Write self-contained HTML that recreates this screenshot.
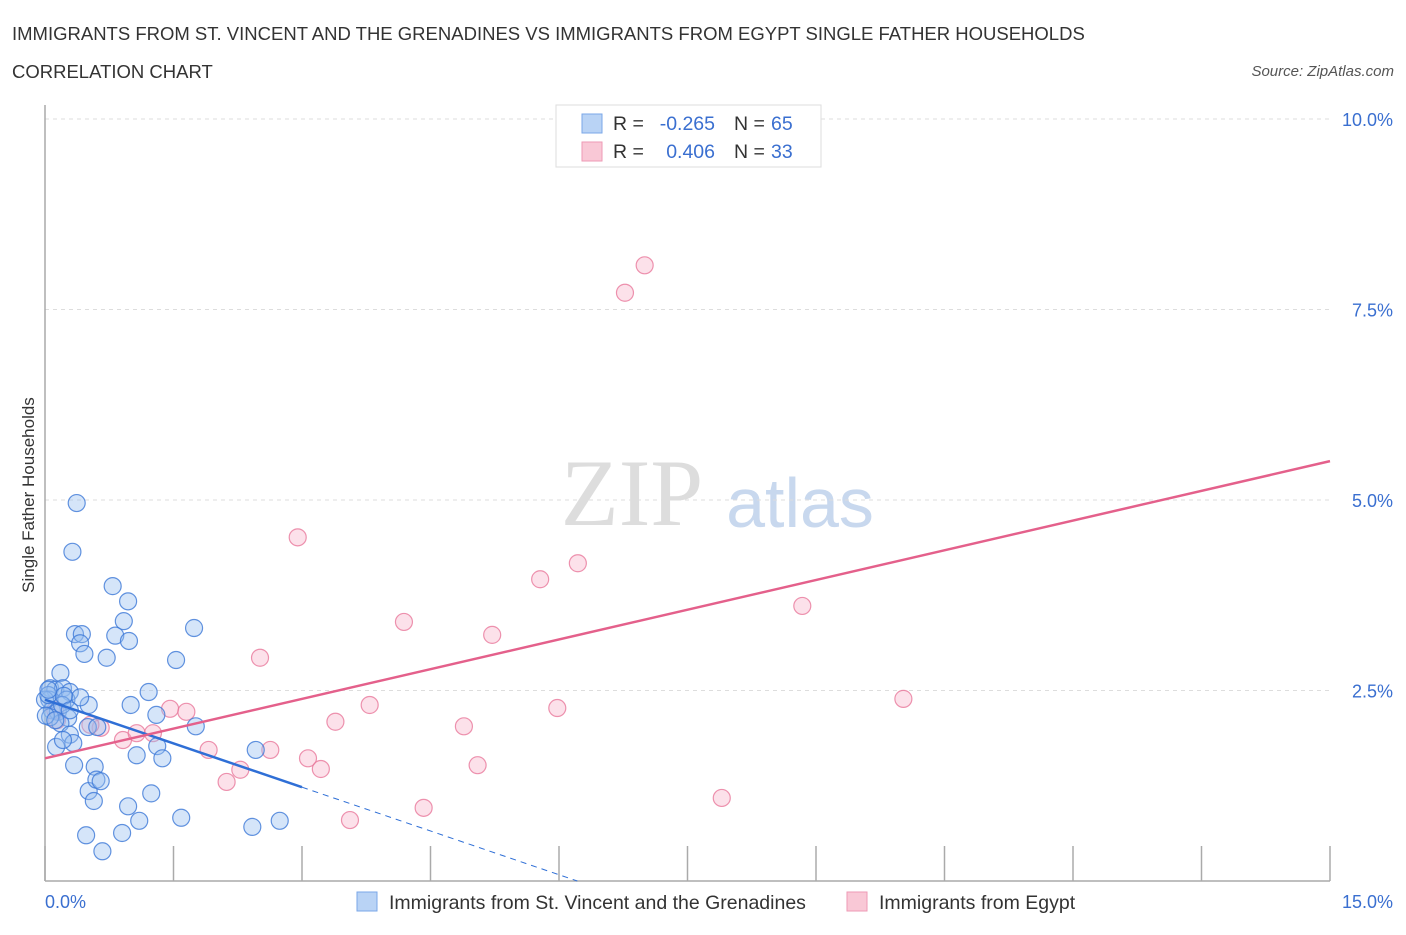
<!DOCTYPE html>
<html><head><meta charset="utf-8"><style>
body{margin:0;background:#fff;font-family:"Liberation Sans",sans-serif;}
</style></head><body>
<svg width="1406" height="930" xmlns="http://www.w3.org/2000/svg">
<text x="12" y="40" font-size="18.5" fill="#333">IMMIGRANTS FROM ST. VINCENT AND THE GRENADINES VS IMMIGRANTS FROM EGYPT SINGLE FATHER HOUSEHOLDS</text>
<text x="12" y="78" font-size="18.5" fill="#333">CORRELATION CHART</text>
<text x="1394" y="76" font-size="15" fill="#555" font-style="italic" text-anchor="end">Source: ZipAtlas.com</text>
<text x="632" y="525" font-size="95" fill="#ddd" font-family="Liberation Serif" text-anchor="middle">ZIP</text>
<text x="800" y="527" font-size="70" fill="#c8d8ee" text-anchor="middle">atlas</text>
<g id="grid"></g>
<g id="axes"></g>
<g id="pts"></g>
<g id="lines"></g>
<text x="34" y="495" font-size="17" fill="#333" text-anchor="middle" transform="rotate(-90 34 495)">Single Father Households</text>
<text x="45" y="908" font-size="18" fill="#3a6fd0">0.0%</text>
<text x="1393" y="908" font-size="18" fill="#3a6fd0" text-anchor="end">15.0%</text>
<g>
<rect x="556" y="105" width="265" height="62" fill="#fff" stroke="#ddd"/>
<rect x="582" y="114" width="20" height="19" fill="#b9d3f5" stroke="#7aa7e8"/>
<rect x="582" y="142" width="20" height="19" fill="#f9c8d6" stroke="#ee9ab5"/>
<text x="613" y="130" font-size="19.5" fill="#333">R =</text>
<text x="715" y="130" font-size="19.5" fill="#3a6fd0" text-anchor="end">-0.265</text>
<text x="734" y="130" font-size="19.5" fill="#333">N =</text>
<text x="771" y="130" font-size="19.5" fill="#3a6fd0">65</text>
<text x="613" y="158" font-size="19.5" fill="#333">R =</text>
<text x="715" y="158" font-size="19.5" fill="#3a6fd0" text-anchor="end">0.406</text>
<text x="734" y="158" font-size="19.5" fill="#333">N =</text>
<text x="771" y="158" font-size="19.5" fill="#3a6fd0">33</text>
</g>
<g>
<rect x="357" y="892" width="20" height="19" fill="#b9d3f5" stroke="#7aa7e8"/>
<text x="389" y="909" font-size="19.5" fill="#333">Immigrants from St. Vincent and the Grenadines</text>
<rect x="847" y="892" width="20" height="19" fill="#f9c8d6" stroke="#ee9ab5"/>
<text x="879" y="909" font-size="19.5" fill="#333">Immigrants from Egypt</text>
</g>
</svg>
<script>
const blueX=[0.37,0.32,0.79,0.97,0.92,0.35,0.43,0.41,0.82,0.98,0.46,0.72,1.53,1.74,0.18,0.06,0.12,0.21,0.29,0.25,0.51,1.00,1.21,1.30,0.05,0.08,0.15,0.27,0.18,0.50,0.61,0.29,0.13,0.33,0.21,1.31,1.37,1.07,2.46,1.76,0.06,0.34,0.51,0.58,0.60,0.65,0.57,0.97,1.24,1.10,1.59,0.48,0.90,0.67,2.42,2.74,0,0.04,0.20,0.41,0.01,0.12,0.22,0.29,0.04];
const blueY=[4.96,4.32,3.87,3.67,3.41,3.24,3.24,3.12,3.22,3.15,2.98,2.93,2.90,3.32,2.73,2.53,2.51,2.53,2.48,2.38,2.31,2.31,2.48,2.18,2.38,2.24,2.22,2.14,2.07,2.02,2.02,1.92,1.76,1.81,1.85,1.77,1.61,1.65,1.72,2.03,2.15,1.52,1.18,1.50,1.33,1.31,1.05,0.98,1.15,0.79,0.83,0.60,0.63,0.39,0.71,0.79,2.38,2.44,2.31,2.41,2.17,2.11,2.43,2.24,2.51];
const pinkX=[7.00,6.77,2.95,6.22,5.78,4.19,5.22,8.84,2.51,3.79,10.02,5.98,1.46,1.65,3.39,4.89,0.65,0.14,0.91,1.07,1.26,1.91,2.63,2.28,3.07,3.22,2.12,5.05,3.56,4.42,7.90,0.12,0.53];
const pinkY=[8.08,7.72,4.51,4.17,3.96,3.40,3.23,3.61,2.93,2.31,2.39,2.27,2.26,2.22,2.09,2.03,2.01,2.11,1.85,1.94,1.94,1.72,1.72,1.46,1.61,1.47,1.30,1.52,0.80,0.96,1.09,2.24,2.05];
const blueTrend=[2.38,-0.383];
const pinkTrend=[1.61,0.26];
const yTicks=[2.5,5.0,7.5,10.0];
const yTickLabels=["2.5%","5.0%","7.5%","10.0%"];
const xTicks=[0,1.5,3,4.5,6,7.5,9,10.5,12,13.5,15];
const NS="http://www.w3.org/2000/svg";
const sx=v=>45+v*(1285/15), sy=v=>881-v*76.2;
function mk(t,a,p){const e=document.createElementNS(NS,t);for(const k in a)e.setAttribute(k,a[k]);p.appendChild(e);return e;}
const gridG=document.getElementById('grid'),axesG=document.getElementById('axes'),ptsG=document.getElementById('pts'),linesG=document.getElementById('lines');
yTicks.forEach((v,i)=>{
 const l=mk('line',{x1:45,x2:1330,y1:sy(v),y2:sy(v),stroke:'#ddd','stroke-dasharray':'4,4'},gridG);
 
 
 const t=mk('text',{x:1393,y:sy(v)+7,'font-size':18,fill:'#3a6fd0','text-anchor':'end'},gridG);
 t.textContent=yTickLabels[i];
 
 
});
const ya=mk('line',{x1:45,x2:45,y1:105,y2:881,stroke:'#aaa','stroke-width':1.5},axesG);


const xa=mk('line',{x1:45,x2:1330,y1:881,y2:881,stroke:'#aaa','stroke-width':1.5},axesG);


xTicks.forEach(v=>{
 const t=mk('line',{x1:sx(v),x2:sx(v),y1:846,y2:881,stroke:'#aaa','stroke-width':1.5},axesG);
 
 
});
function dots(X,Y,fill,stroke,name){X.forEach((x,i)=>{
 const c=mk('circle',{cx:sx(x),cy:sy(Y[i]),r:8.5,fill:fill,stroke:stroke,'stroke-width':1.2},ptsG);
 
 
});}
dots(pinkX,pinkY,'rgba(246,170,195,0.35)','rgba(232,120,155,0.8)','egypt-point');
dots(blueX,blueY,'rgba(150,190,240,0.4)','rgba(60,120,215,0.8)','st-vincent-point');
const bx0=0,bx1=3.0,bx2=-blueTrend[0]/blueTrend[1];
const b1=mk('line',{x1:sx(bx0),y1:sy(blueTrend[0]),x2:sx(bx1),y2:sy(blueTrend[0]+blueTrend[1]*bx1),stroke:'#2f6fd6','stroke-width':2.5},linesG);


const b2=mk('line',{x1:sx(bx1),y1:sy(blueTrend[0]+blueTrend[1]*bx1),x2:sx(bx2),y2:sy(0),stroke:'#2f6fd6','stroke-width':1,'stroke-dasharray':'6,5'},linesG);


const p1=mk('line',{x1:sx(0),y1:sy(pinkTrend[0]),x2:sx(15),y2:sy(pinkTrend[0]+pinkTrend[1]*15),stroke:'#e4608b','stroke-width':2.5},linesG);


</script>
</body></html>
